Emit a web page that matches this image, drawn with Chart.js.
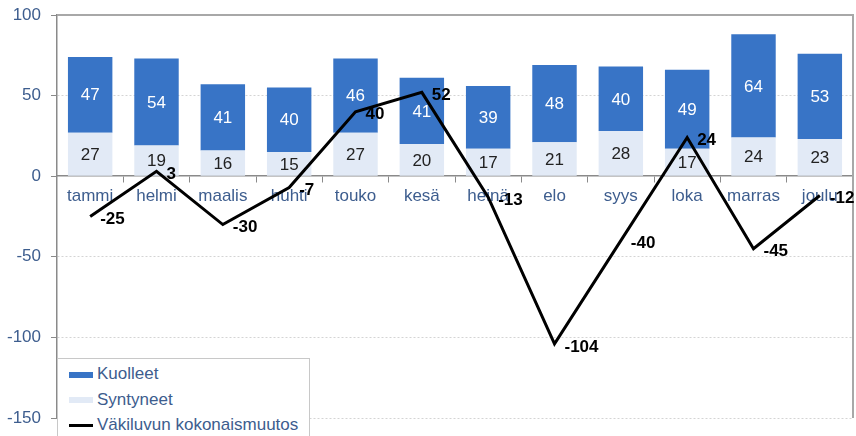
<!DOCTYPE html>
<html>
<head>
<meta charset="utf-8">
<script src="https://cdn.jsdelivr.net/npm/chart.js@4.4.1/dist/chart.umd.min.js"></script>
<style>
  html, body { margin: 0; padding: 0; background: #fff; }
  #wrap { position: relative; width: 856px; height: 436px; overflow: hidden; }
  #legend {
    position: absolute; left: 57px; top: 358px; width: 253px; height: 90px;
    background: #fff; border: 1px solid #c8c8c8; box-sizing: border-box;
    font: 17px "Liberation Sans", Arial, sans-serif; color: #3d5d8e;
  }
  #legend .row { position: absolute; left: 11px; height: 20px; line-height: 20px; white-space: nowrap; }
  #legend .sw { display: inline-block; width: 24px; vertical-align: middle; margin-right: 4px; }
</style>
</head>
<body>
<div id="wrap">
  <canvas id="chart" width="856" height="436"></canvas>
  <div id="legend"></div>
</div>
<script>
const months = ["tammi", "helmi", "maalis", "huhti", "touko", "kesä", "heinä", "elo", "syys", "loka", "marras", "joulu"];
const kuolleet = [47, 54, 41, 40, 46, 41, 39, 48, 40, 49, 64, 53];
const syntyneet = [27, 19, 16, 15, 27, 20, 17, 21, 28, 17, 24, 23];
const muutos = [-25, 3, -30, -7, 40, 52, -13, -104, -40, 24, -45, -12];
const yTicks = [-150, -100, -50, 0, 50, 100];

const blue = "#3874c6";
const pale = "#e2eaf6";
const textBlue = "#3d5d8e";
const font = "'Liberation Sans', Arial, sans-serif";

// numbers on bars and beside the line
const valueLabels = {
  id: "valueLabels",
  afterDatasetsDraw(chart) {
    const ctx = chart.ctx;
    ctx.save();
    chart.data.datasets.forEach((ds, di) => {
      const meta = chart.getDatasetMeta(di);
      meta.data.forEach((el, i) => {
        const v = ds.data[i];
        if (ds.type === "bar") {
          ctx.font = "17px " + font;
          ctx.textAlign = "center";
          ctx.textBaseline = "middle";
          ctx.fillStyle = ds.labelColor;
          ctx.fillText(String(v), el.x, (el.y + el.base) / 2 + 1);
        } else {
          ctx.font = "bold 17px " + font;
          ctx.textAlign = "left";
          ctx.textBaseline = "middle";
          ctx.fillStyle = "#000";
          ctx.fillText(String(v), el.x + 10, el.y + 3);
        }
      });
    });
    ctx.restore();
  }
};

// grey frame on top and right of plot area
const frame = {
  id: "frame",
  beforeDatasetsDraw(chart) {
    const { ctx, chartArea: a } = chart;
    ctx.save();
    ctx.strokeStyle = "#a8a8a8";
    ctx.lineWidth = 2;
    ctx.beginPath();
    ctx.moveTo(a.left, a.top);
    ctx.lineTo(a.right, a.top);
    ctx.lineTo(a.right, a.bottom);
    ctx.stroke();
    ctx.restore();
  }
};

const chart = new Chart(document.getElementById("chart"), {
  data: {
    labels: months,
    datasets: [
      {
        type: "line",
        label: "Väkiluvun kokonaismuutos",
        data: muutos,
        borderColor: "#000",
        borderWidth: 3,
        pointRadius: 0,
        tension: 0,
        stack: "line",
        order: 0
      },
      {
        type: "bar",
        label: "Syntyneet",
        data: syntyneet,
        backgroundColor: pale,
        labelColor: "#222",
        stack: "pop",
        barPercentage: 0.67,
        categoryPercentage: 1,
        order: 1
      },
      {
        type: "bar",
        label: "Kuolleet",
        data: kuolleet,
        backgroundColor: blue,
        labelColor: "#fff",
        stack: "pop",
        barPercentage: 0.67,
        categoryPercentage: 1,
        order: 1
      }
    ]
  },
  options: {
    responsive: false,
    animation: false,
    layout: { padding: { left: 0, top: 15, right: 3, bottom: 18 } },
    plugins: { legend: { display: false }, tooltip: { enabled: false } },
    scales: {
      x: {
        stacked: true,
        position: { y: 0 },
        border: { color: "#8a8a8a", width: 1.5 },
        grid: { drawOnChartArea: false, offset: true, tickLength: 6, color: "#8a8a8a" },
        ticks: { color: textBlue, font: { family: font, size: 17 }, padding: 4 }
      },
      y: {
        stacked: true,
        min: -150,
        max: 100,
        afterFit(scale) {
          scale.width = 57;
          scale.paddingTop = 0;
          scale.paddingBottom = 0;
        },
        afterBuildTicks(scale) { scale.ticks = yTicks.map(v => ({ value: v })); },
        border: {
          color: "#8a8a8a",
          width: 1.5,
          dash: (c) => (c.tick && c.tick.value === 100 ? [] : [2, 2])
        },
        grid: {
          color: (c) => (c.tick && (c.tick.value === 0 || c.tick.value === 100) ? "rgba(0,0,0,0)" : "#d4d4d4"),
          tickLength: 6,
          tickColor: "#8a8a8a"
        },
        ticks: { color: textBlue, font: { family: font, size: 17 }, padding: 10 }
      }
    }
  },
  plugins: [frame, valueLabels]
});

// legend as html, built from the datasets
const legendOrder = ["Kuolleet", "Syntyneet", "Väkiluvun kokonaismuutos"];
const legend = document.getElementById("legend");
legendOrder.forEach((name, i) => {
  const ds = chart.data.datasets.find(d => d.label === name);
  const row = document.createElement("div");
  row.className = "row";
  row.style.top = (5 + i * 25.5) + "px";
  const sw = document.createElement("span");
  sw.className = "sw";
  if (ds.type === "line") {
    sw.style.height = "3px";
    sw.style.background = ds.borderColor;
  } else {
    sw.style.height = "6px";
    sw.style.background = ds.backgroundColor;
  }
  row.appendChild(sw);
  row.appendChild(document.createTextNode(name));
  legend.appendChild(row);
});
</script>
</body>
</html>
